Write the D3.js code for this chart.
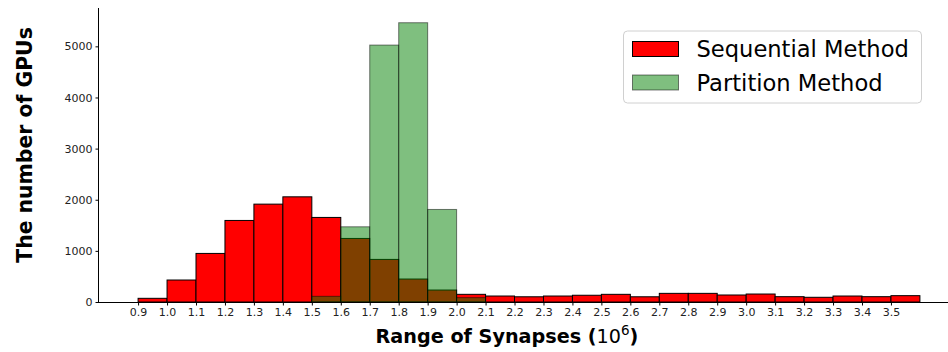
<!DOCTYPE html>
<html>
<head>
<meta charset="utf-8">
<script src="https://cdn.jsdelivr.net/npm/d3@7"></script>
<style>
  html, body { margin: 0; padding: 0; background: #fff; }
  svg { display: block; font-family: "DejaVu Sans", sans-serif; }
</style>
</head>
<body>
<svg id="chart" width="948" height="352"></svg>
<script>
// Histogram bins (lower edges, in units of 10^6 synapses), width 0.1
const binStarts = [0.9, 1.0, 1.1, 1.2, 1.3, 1.4, 1.5, 1.6, 1.7, 1.8, 1.9, 2.0, 2.1, 2.2,
                   2.3, 2.4, 2.5, 2.6, 2.7, 2.8, 2.9, 3.0, 3.1, 3.2, 3.3, 3.4, 3.5];
const binWidth = 0.1;

// GPU counts per bin
const sequentialCounts = [72, 430, 950, 1595, 1914, 2057, 1654, 1243, 833, 449, 234, 150, 117, 102,
                          117, 132, 150, 102, 169, 169, 137, 156, 104, 92, 117, 104, 124];
const partitionStarts = [1.5, 1.6, 1.7, 1.8, 1.9, 2.0];
const partitionCounts = [111, 1471, 5025, 5462, 1810, 85];

const xTickValues = [0.9, 1.0, 1.1, 1.2, 1.3, 1.4, 1.5, 1.6, 1.7, 1.8, 1.9, 2.0, 2.1, 2.2,
                     2.3, 2.4, 2.5, 2.6, 2.7, 2.8, 2.9, 3.0, 3.1, 3.2, 3.3, 3.4, 3.5];
const yTickValues = [0, 1000, 2000, 3000, 4000, 5000];

const seriesNames = ["Sequential Method", "Partition Method"];

const svg = d3.select("#chart");

const plotLeft = 99, plotRight = 959, plotTop = 8, plotBottom = 302;

const x = d3.scaleLinear().domain([0.765, 3.735]).range([plotLeft, plotRight]);
const y = d3.scaleLinear().domain([0, 5750]).range([plotBottom, plotTop]);

// Sequential bars (opaque red)
svg.append("g")
  .selectAll("rect")
  .data(binStarts.map((s, i) => ({ s, v: sequentialCounts[i] })))
  .join("rect")
  .attr("x", d => x(d.s))
  .attr("width", d => x(d.s + binWidth) - x(d.s))
  .attr("y", d => y(d.v))
  .attr("height", d => y(0) - y(d.v))
  .attr("fill", "#ff0000")
  .attr("stroke", "#000")
  .attr("stroke-width", 1);

// Partition bars (half-transparent green, drawn on top)
svg.append("g")
  .selectAll("rect")
  .data(partitionStarts.map((s, i) => ({ s, v: partitionCounts[i] })))
  .join("rect")
  .attr("x", d => x(d.s))
  .attr("width", d => x(d.s + binWidth) - x(d.s))
  .attr("y", d => y(d.v))
  .attr("height", d => y(0) - y(d.v))
  .attr("fill", "rgba(0,128,0,0.5)")
  .attr("stroke", "rgba(0,0,0,0.5)")
  .attr("stroke-width", 1);

// Axes
const xAxis = d3.axisBottom(x)
  .tickValues(xTickValues)
  .tickFormat(d3.format(".1f"))
  .tickSize(3.5)
  .tickPadding(3);
const gx = svg.append("g")
  .attr("transform", `translate(0,${plotBottom})`)
  .call(xAxis);
gx.select(".domain").attr("d", `M${plotLeft},0.5H${plotRight}`);

const yAxis = d3.axisLeft(y)
  .tickValues(yTickValues)
  .tickFormat(d3.format("d"))
  .tickSize(3.5)
  .tickPadding(3);
const gy = svg.append("g")
  .attr("transform", `translate(${plotLeft},0)`)
  .call(yAxis);
gy.select(".domain").attr("d", `M-0.5,${plotBottom}V${plotTop}`);

[gx, gy].forEach(g => {
  g.selectAll("text")
    .attr("font-family", "DejaVu Sans, sans-serif")
    .attr("font-size", 11)
    .attr("fill", "#222");
  g.selectAll("line").attr("stroke", "#000");
  g.select(".domain").attr("stroke", "#000");
});

// Axis titles
svg.append("text")
  .attr("transform", "translate(31.5,145) rotate(-90)")
  .attr("text-anchor", "middle")
  .attr("font-weight", "bold")
  .attr("font-size", 20.4)
  .attr("fill", "#000")
  .text("The number of GPUs");

const xl = svg.append("text")
  .attr("x", 507)
  .attr("y", 343)
  .attr("text-anchor", "middle")
  .attr("font-size", 19.2)
  .attr("fill", "#000");
xl.append("tspan").attr("font-weight", "bold").text("Range of Synapses (");
xl.append("tspan").attr("font-weight", "normal").text("10");
xl.append("tspan").attr("font-weight", "normal").attr("font-size", 13.5).attr("dy", -8).text("6");
xl.append("tspan").attr("font-weight", "bold").attr("dy", 8).text(")");

// Legend
const legend = svg.append("g");
legend.append("rect")
  .attr("x", 623.5).attr("y", 31)
  .attr("width", 298).attr("height", 72)
  .attr("rx", 4)
  .attr("fill", "rgba(255,255,255,0.8)")
  .attr("stroke", "#d0d0d0");
const legendFill = ["#ff0000", "rgba(0,128,0,0.5)"];
const legendStroke = ["#000", "rgba(0,0,0,0.5)"];
seriesNames.forEach((name, i) => {
  const cy = 49 + i * 33.5;
  legend.append("rect")
    .attr("x", 632.5).attr("y", cy - 7.5)
    .attr("width", 46).attr("height", 15)
    .attr("fill", legendFill[i])
    .attr("stroke", legendStroke[i]);
  legend.append("text")
    .attr("x", 696.5).attr("y", cy + 8)
    .attr("font-size", 22.6)
    .attr("fill", "#000")
    .text(name);
});
</script>
</body>
</html>
